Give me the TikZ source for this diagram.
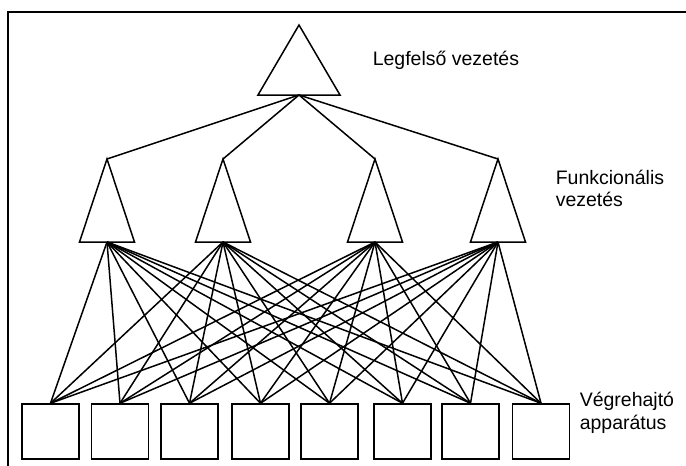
\documentclass[tikz,border=0pt]{standalone}
\usepackage{fontspec}
\setmainfont{Liberation Sans}
\usepackage{tikz}
\usetikzlibrary{positioning}

\begin{document}
\begin{tikzpicture}[x=1pt, y=-1pt, line width=1.5pt,
    sqbox/.style={draw, minimum width=57pt, minimum height=55pt, inner sep=0pt},
    lbl/.style={anchor=base west, inner sep=0pt, align=left,
                font=\fontsize{19.5}{22.5}\selectfont}]
  \useasboundingbox (0,0) rectangle (686,466);
  % frame
  \draw[line width=1.3pt] (8,466) -- (8,12) -- (686,12);
  % top management
  \coordinate (toptip) at (299,25);
  \coordinate (top) at (299,95);
  \draw (toptip) -- ++(41,70) -- ++(-82,0) -- cycle;
  % functional management
  \foreach \i/\x in {1/107, 2/223, 3/375, 4/498}{
    \coordinate (f\i tip) at (\x,159);
    \coordinate (f\i) at (\x,242);
    \draw (f\i tip) -- ++(27.5,83) -- ++(-55,0) -- cycle;
    \draw (top) -- (f\i tip);
  }
  % executive units
  \foreach \j/\x in {1/50.5, 2/120, 3/189.5, 4/260.5, 5/329.5, 6/402.5, 7/470.5, 8/541}{
    \node[sqbox] (v\j) at (\x,431.5) {};
  }
  \foreach \i in {1,...,4}
    \foreach \j in {1,...,8}
      \draw (f\i) -- (v\j.north);
  % labels
  \node[lbl] (toplbl) at (372,65) {Legfelső vezetés};
  \node[lbl] (funclbl) at (555,206.7) {Funkcionális\\vezetés};
  \node[lbl] (execlbl) at (579,429.3) {Végrehajtó\\apparátus};
\end{tikzpicture}
\end{document}
